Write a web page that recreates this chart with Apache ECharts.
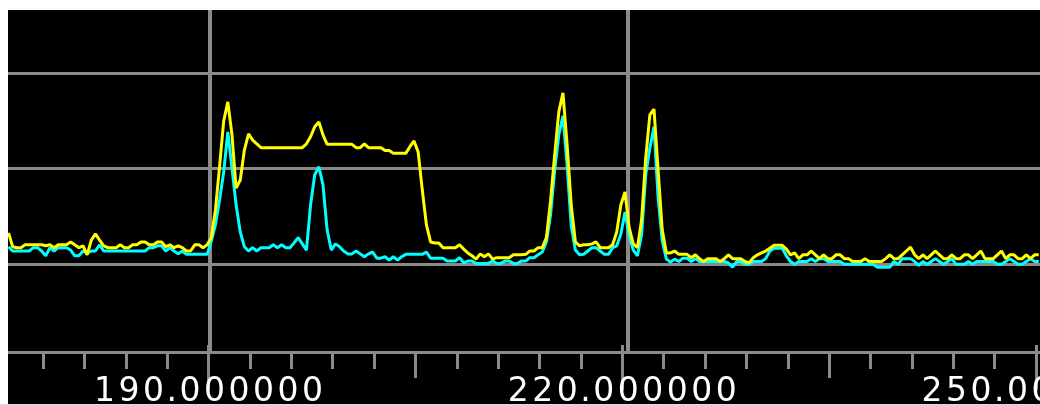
<!DOCTYPE html>
<html><head><meta charset="utf-8">
<script src="https://cdn.jsdelivr.net/npm/echarts@6/dist/echarts.min.js"></script>
<style>html,body{margin:0;padding:0;background:#fff}#c{width:1040px;height:405px}</style>
</head><body><div id="c"></div>
<script>
// Sweep definition (MHz)
const FREQ_START = 175.5;
const FREQ_STEP = 0.3;
const X_MIN = 175.46;
const X_MAX = 250.29;
const Y_MIN = -98.5;
const Y_MAX = -26.7;

// Trace levels (dB), one per sample
const yellowTrace = [
-73.5,-76.4,-76.6,-76.6,-76.0,-76.0,-76.0,-76.0,-76.0,-76.2,
-76.0,-76.6,-76.0,-76.0,-76.0,-75.4,-76.0,-76.6,-76.2,-78.1,
-75.0,-73.7,-75.0,-76.2,-76.6,-76.6,-76.6,-76.0,-76.6,-76.6,
-76.0,-76.0,-75.4,-75.4,-76.0,-76.0,-75.4,-75.4,-76.4,-76.0,
-76.6,-76.2,-76.6,-77.3,-77.3,-76.0,-76.0,-76.6,-76.0,-74.5,
-68.7,-59.6,-50.0,-46.0,-52.9,-64.1,-62.4,-56.1,-52.7,-54.0,
-54.8,-55.6,-55.6,-55.6,-55.6,-55.6,-55.6,-55.6,-55.6,-55.6,
-55.6,-55.6,-54.8,-53.3,-51.2,-50.2,-52.9,-54.9,-54.9,-54.9,
-54.9,-54.9,-54.9,-54.9,-55.6,-55.6,-54.8,-55.6,-55.6,-55.6,
-55.6,-56.2,-56.2,-56.8,-56.8,-56.8,-56.8,-55.4,-54.2,-56.5,
-64.5,-71.8,-75.4,-75.6,-75.6,-76.6,-76.6,-76.6,-76.6,-76.0,
-76.9,-77.7,-78.3,-79.0,-77.9,-78.5,-77.9,-79.0,-78.7,-78.7,
-78.7,-78.7,-78.1,-78.1,-78.1,-78.0,-77.3,-77.3,-76.6,-76.6,
-74.5,-66.8,-57.1,-48.1,-44.1,-55.0,-67.6,-75.4,-76.2,-76.0,
-76.0,-75.8,-75.4,-76.6,-76.6,-76.6,-76.0,-73.3,-67.6,-64.9,
-72.4,-75.8,-76.6,-70.8,-57.8,-48.7,-47.5,-60.3,-72.9,-77.7,
-77.7,-77.3,-78.0,-78.0,-78.0,-78.7,-78.1,-78.9,-79.5,-78.9,
-78.9,-78.9,-79.5,-78.9,-78.1,-78.9,-78.9,-78.9,-79.5,-79.8,
-78.7,-78.1,-77.7,-77.3,-76.7,-76.1,-76.1,-76.1,-76.9,-78.1,
-77.7,-78.9,-78.1,-78.1,-77.3,-78.1,-78.9,-78.1,-78.9,-78.9,
-78.1,-78.1,-78.9,-78.9,-79.5,-79.5,-79.5,-78.9,-79.5,-79.5,
-79.5,-79.5,-78.9,-78.1,-78.9,-78.9,-78.1,-77.3,-76.5,-78.1,
-78.9,-78.1,-78.9,-78.1,-77.3,-78.1,-78.9,-78.9,-78.1,-78.9,
-78.9,-78.1,-78.1,-78.9,-78.1,-77.3,-78.9,-78.9,-78.9,-78.1,
-77.3,-78.9,-78.1,-78.1,-78.9,-78.9,-78.1,-78.9,-78.1,-78.1
];
const cyanTrace = [
-76.4,-77.3,-77.3,-77.3,-77.3,-77.3,-76.6,-76.6,-77.3,-78.3,
-76.6,-77.3,-76.6,-76.6,-76.6,-77.1,-78.3,-78.3,-77.3,-77.7,
-77.3,-77.3,-76.0,-77.3,-77.3,-77.3,-77.3,-77.3,-77.3,-77.3,
-77.3,-77.3,-77.3,-77.3,-76.6,-76.6,-76.2,-76.2,-77.3,-76.6,
-77.3,-77.9,-77.3,-78.0,-78.0,-78.0,-78.0,-78.0,-78.0,-75.2,
-71.8,-66.6,-60.7,-52.3,-59.9,-67.6,-73.3,-76.4,-77.3,-76.6,
-77.3,-76.6,-76.6,-76.6,-76.0,-76.6,-76.0,-76.6,-76.6,-75.6,
-74.5,-75.8,-77.1,-67.6,-61.3,-59.6,-63.4,-72.9,-77.1,-75.8,
-76.4,-77.3,-77.9,-77.9,-77.3,-77.9,-78.5,-77.9,-77.5,-78.8,
-78.8,-78.5,-79.2,-78.5,-79.2,-78.5,-78.0,-78.0,-78.0,-78.0,
-78.0,-77.5,-78.8,-78.8,-78.8,-78.8,-79.4,-79.4,-79.4,-78.7,
-79.8,-79.4,-79.4,-79.9,-79.9,-79.9,-79.9,-79.4,-79.9,-79.9,
-79.4,-79.4,-79.9,-79.9,-79.4,-79.4,-78.7,-78.7,-78.1,-77.5,
-75.4,-69.7,-60.3,-52.9,-48.9,-59.2,-72.0,-77.1,-78.1,-78.0,
-77.3,-76.6,-76.6,-77.3,-78.0,-78.0,-76.6,-76.2,-73.7,-69.1,
-74.1,-77.1,-78.3,-73.9,-61.3,-55.7,-51.2,-66.1,-75.2,-79.0,
-79.6,-79.0,-79.5,-78.8,-78.8,-79.5,-78.9,-79.5,-79.5,-79.5,
-79.5,-79.5,-79.5,-79.5,-79.8,-80.7,-79.5,-79.5,-80.1,-80.1,
-79.5,-79.5,-79.5,-78.9,-77.3,-76.7,-76.7,-76.7,-78.3,-79.5,
-80.1,-79.5,-79.5,-79.5,-78.9,-79.5,-78.9,-78.9,-79.5,-79.5,
-79.5,-79.5,-80.1,-80.1,-80.1,-80.1,-80.1,-80.1,-80.1,-80.1,
-80.7,-80.7,-80.7,-80.7,-79.5,-80.1,-78.9,-78.9,-78.9,-79.5,
-80.3,-79.5,-80.1,-79.5,-78.9,-79.5,-80.1,-79.5,-78.9,-80.1,
-80.1,-80.1,-79.5,-80.1,-79.5,-79.5,-79.5,-79.5,-79.5,-80.1,
-80.1,-79.5,-78.9,-79.5,-80.1,-80.1,-79.5,-78.9,-79.5,-79.5
];

// Axis ticks, labels and grid lines
const labelFreqs = [190, 220, 250];
const majorTickFreqs = [190, 220, 250];
const midTickFreqs = [205, 235];
const minorTickFreqs = [178,181,184,187,193,196,199,202,208,211,214,217,223,226,229,232,238,241,244,247];
const gridFreqs = [190.1, 220.4];
const gridLevels = [-40, -60, -80];

const GRAY = '#8a8a8a';
const toPairs = arr => arr.map((v, i) => [FREQ_START + i * FREQ_STEP, v]);

function xAx(extra) {
  return Object.assign({
    type: 'value', min: X_MIN, max: X_MAX, position: 'bottom', gridIndex: 0,
    axisLine: { show: false, onZero: false },
    axisTick: { show: false },
    axisLabel: { show: false },
    splitLine: { show: false }
  }, extra);
}

const LABEL_FONT = { color: '#fff', fontSize: 33, fontFamily: 'DejaVu Sans' };

const chart = echarts.init(document.getElementById('c'), null, { renderer: 'canvas' });
chart.setOption({
  animation: false,
  backgroundColor: '#000',
  grid: { left: 8, right: 0, top: 10, bottom: 53, containLabel: false, outerBoundsMode: 'none' },
  xAxis: [
    xAx({
      axisLine: { show: true, onZero: false, lineStyle: { color: GRAY, width: 3 } },
      axisTick: { show: true, customValues: minorTickFreqs, length: 17, lineStyle: { color: GRAY, width: 3 } }
    }),
    xAx({
      axisTick: { show: true, customValues: midTickFreqs, length: 26, lineStyle: { color: GRAY, width: 3 } }
    }),
    xAx({
      axisTick: { show: true, customValues: majorTickFreqs, length: 38, lineStyle: { color: GRAY, width: 3 } },
      axisLabel: Object.assign({
        show: true, customValues: labelFreqs, margin: 24,
        formatter: v => Number(v).toFixed(6).split('')
          .map(ch => ch === '.' ? '{p|.}' : '{d|' + ch + '}').join(''),
        rich: {
          d: Object.assign({ width: 24.5, align: 'center' }, LABEL_FONT),
          p: Object.assign({ width: 12, align: 'center' }, LABEL_FONT)
        }
      }, LABEL_FONT)
    }),
    xAx({
      axisTick: { show: true, inside: true, customValues: majorTickFreqs, length: 7, lineStyle: { color: GRAY, width: 3 } }
    })
  ],
  yAxis: { type: 'value', min: Y_MIN, max: Y_MAX, show: false },
  series: [
    {
      type: 'line', name: 'cyan', data: toPairs(cyanTrace), xAxisIndex: 0,
      showSymbol: false, z: 2,
      lineStyle: { color: '#00ffff', width: 3 },
      markLine: {
        silent: true, z: 1, symbol: ['none', 'none'], label: { show: false },
        lineStyle: { color: GRAY, type: 'solid', width: 3 },
        data: gridLevels.map(v => ({ yAxis: v }))
          .concat(gridFreqs.map(v => ({ xAxis: v, lineStyle: { color: GRAY, type: 'solid', width: 4 } })))
      }
    },
    {
      type: 'line', name: 'yellow', data: toPairs(yellowTrace), xAxisIndex: 0,
      showSymbol: false, z: 3,
      lineStyle: { color: '#ffff00', width: 3 }
    }
  ],
  graphic: [
    { type: 'rect', left: 0, top: 0, shape: { width: 1040, height: 10 }, style: { fill: '#fff' }, z: 100, silent: true },
    { type: 'rect', left: 0, top: 0, shape: { width: 8, height: 405 }, style: { fill: '#fff' }, z: 100, silent: true },
    { type: 'rect', left: 0, top: 404, shape: { width: 1040, height: 1 }, style: { fill: '#ddd' }, z: 100, silent: true }
  ]
});
</script></body></html>
